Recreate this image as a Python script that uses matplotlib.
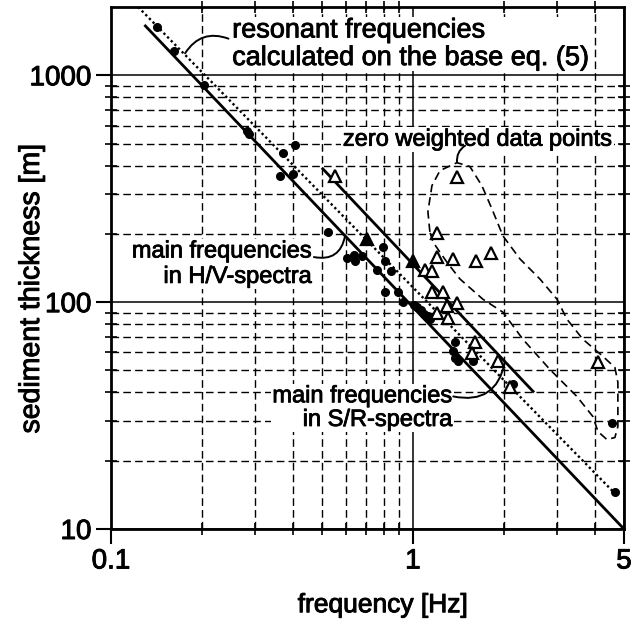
import matplotlib
matplotlib.use("Agg")
from matplotlib import pyplot as plt
from matplotlib import patheffects
from matplotlib.ticker import FixedLocator, FixedFormatter, NullFormatter

plt.rcParams['font.family'] = ['Liberation Sans', 'DejaVu Sans']

# main frequencies from H/V spectra (filled dots)
hv_freq = [0.142, 0.162, 0.203, 0.282, 0.286, 0.371, 0.407, 0.363, 0.401,
           0.523, 0.604, 0.64, 0.645, 0.678, 0.796, 0.808, 0.760, 0.846,
           0.808, 0.892, 0.927, 1.01, 1.03, 1.06, 1.09, 1.12, 1.14,
           1.38, 1.36, 1.38, 1.41, 1.58, 2.14, 4.56, 4.67]
hv_thick = [1630, 1277, 903, 570, 550, 456, 495, 361, 368,
            204, 157, 162, 152, 160, 175, 152, 139, 137,
            111, 111, 100, 97, 95, 92, 89, 87, 84,
            66.5, 61, 57, 55, 54.8, 43.4, 29.2, 14.6]

# main frequencies from S/R spectra (open triangles)
sr_freq = [0.552, 1.40, 1.20, 1.20, 1.36, 1.62, 1.81, 1.10, 1.16, 1.155,
           1.257, 1.40, 1.30, 1.20, 1.31, 1.60, 1.57, 1.91, 2.09, 4.10]
sr_thick = [361, 357, 202, 158, 155, 152, 165, 139, 137, 111,
            111, 99, 96, 90, 85, 66.5, 59.5, 54.8, 42.4, 54.3]
# S/R points overlapping H/V points (drawn filled)
sr_fill_freq = [0.704, 1.0]
sr_fill_thick = [190, 152]

# regression lines (end points)
hv_line_f = [0.13, 5.0]
hv_line_h = [1650, 10]
sr_line_f = [0.503, 2.50]
sr_line_h = [387, 40.4]
eq5_line_f = [0.123, 4.75]
eq5_line_h = [2000, 14]

# outline around the zero weighted data points
zero_f = [1.138, 1.121, 1.156, 1.229, 1.399, 1.544, 1.692, 1.826, 1.986, 2.262,
          2.633, 3.0, 3.236, 3.655, 4.257, 4.665, 4.773, 4.773, 4.665, 4.389,
          4.099, 3.945, 3.491, 2.842, 2.313, 1.986, 1.705, 1.431, 1.296, 1.165,
          1.138]
zero_h = [204, 250, 326, 380, 412, 396, 326, 258, 196, 155,
          126.5, 103, 84.1, 68.6, 57.7, 51.5, 44.3, 28.3, 25.3, 24.8,
          26.9, 31.3, 38.4, 50.5, 68.6, 90.3, 103, 126.5, 150, 184,
          204]

x_ticks = [0.1, 1, 5]
x_ticklabels = ['0.1', '1', '5']
x_minor = [0.2, 0.3, 0.4, 0.5, 0.6, 0.7, 0.8, 0.9, 2, 3, 4]
y_ticks = [10, 100, 1000]
y_ticklabels = ['10', '100', '1000']
y_minor = [20, 30, 40, 50, 60, 70, 80, 90, 200, 300, 400, 500, 600, 700, 800, 900]

# slightly heavier glyphs
heavy = [patheffects.withStroke(linewidth=0.7, foreground='black')]
heavy_text = [patheffects.withStroke(linewidth=0.6, foreground='black')]

fig = plt.figure(figsize=(6.32, 6.23), dpi=100)
ax = fig.add_axes([0.1756, 0.1509, 0.8117, 0.8379])
ax.set_xscale('log')
ax.set_yscale('log')
ax.set_xlim(0.1, 5)
ax.set_ylim(10, 2000)

ax.xaxis.set_major_locator(FixedLocator(x_ticks))
ax.xaxis.set_major_formatter(FixedFormatter(x_ticklabels))
ax.xaxis.set_minor_locator(FixedLocator(x_minor))
ax.xaxis.set_minor_formatter(NullFormatter())
ax.yaxis.set_major_locator(FixedLocator(y_ticks))
ax.yaxis.set_major_formatter(FixedFormatter(y_ticklabels))
ax.yaxis.set_minor_locator(FixedLocator(y_minor))
ax.yaxis.set_minor_formatter(NullFormatter())

ax.grid(which='major', color='black', lw=1.1, ls='-')
ax.grid(which='minor', color='black', lw=1.0, ls=(0, (5.5, 3)))
ax.set_axisbelow(True)

ax.tick_params(which='major', direction='out', length=11, width=1.5,
               labelsize=20, pad=3)
ax.tick_params(which='minor', direction='inout', length=9, width=1.2,
               top=True, right=True)
for s in ax.spines.values():
    s.set_linewidth(2.0)
for lab in ax.get_xticklabels() + ax.get_yticklabels():
    lab.set_path_effects(heavy)

ax.plot(hv_line_f, hv_line_h, color='black', lw=2.0, zorder=3)
ax.plot(sr_line_f, sr_line_h, color='black', lw=2.0, zorder=3)
ax.plot(eq5_line_f, eq5_line_h, color='black', lw=1.7, ls=(0, (1, 1.2)), zorder=3)
ax.plot(zero_f, zero_h, color='black', lw=1.2, ls=(0, (5, 3)), zorder=3)

ax.plot(hv_freq, hv_thick, 'o', color='black', ms=5.5, zorder=4)
ax.plot(sr_freq, sr_thick, '^', mfc='white', mec='black', mew=1.6, ms=8, zorder=4)
ax.plot(sr_fill_freq, sr_fill_thick, '^', color='black', mew=1.6, ms=8, zorder=4)

box = dict(facecolor='white', edgecolor='none', pad=1)
ax.text(0.252, 1370, 'resonant frequencies\ncalculated on the base eq. (5)',
        fontsize=19.5, ha='left', va='center', linespacing=1.08,
        bbox=dict(box, pad=0), zorder=5, path_effects=heavy_text)
ax.text(4.59, 520, 'zero weighted data points', fontsize=17, ha='right',
        va='center', bbox=box, zorder=5, path_effects=heavy_text)
ax.text(0.463, 147, 'main frequencies\nin H/V-spectra', fontsize=17, ha='right',
        va='center', linespacing=1.2, bbox=box, zorder=5, path_effects=heavy_text)
ax.text(1.352, 34.1, 'main frequencies\nin S/R-spectra', fontsize=17, ha='right',
        va='center', linespacing=1.1, bbox=box, zorder=5, path_effects=heavy_text)

# leader lines from the labels
leader = dict(arrowstyle='-', color='black', lw=1.4, shrinkA=0, shrinkB=0)
ax.annotate('', xy=(0.176, 1250), xytext=(0.245, 1450),
            arrowprops=dict(leader, connectionstyle='arc3,rad=0.4'), zorder=5)
ax.annotate('', xy=(1.40, 412), xytext=(1.49, 490),
            arrowprops=dict(leader, connectionstyle='arc3,rad=0.3'), zorder=5)
ax.annotate('', xy=(0.596, 196), xytext=(0.470, 158),
            arrowprops=dict(leader, connectionstyle='arc3,rad=0.5'), zorder=5)
ax.annotate('', xy=(2.016, 54.3), xytext=(1.36, 38.4),
            arrowprops=dict(leader, connectionstyle='arc3,rad=0.5'), zorder=5)

ax.set_xlabel('frequency [Hz]', fontsize=19)
ax.set_ylabel('sediment thickness [m]', fontsize=20.5)
ax.xaxis.label.set_va('center')
ax.yaxis.label.set_va('center')
ax.xaxis.label.set_path_effects(heavy)
ax.yaxis.label.set_path_effects(heavy)
ax.xaxis.set_label_coords(0.53, -0.146)
ax.yaxis.set_label_coords(-0.154, 0.46)

fig.savefig('out.png', dpi=100)
